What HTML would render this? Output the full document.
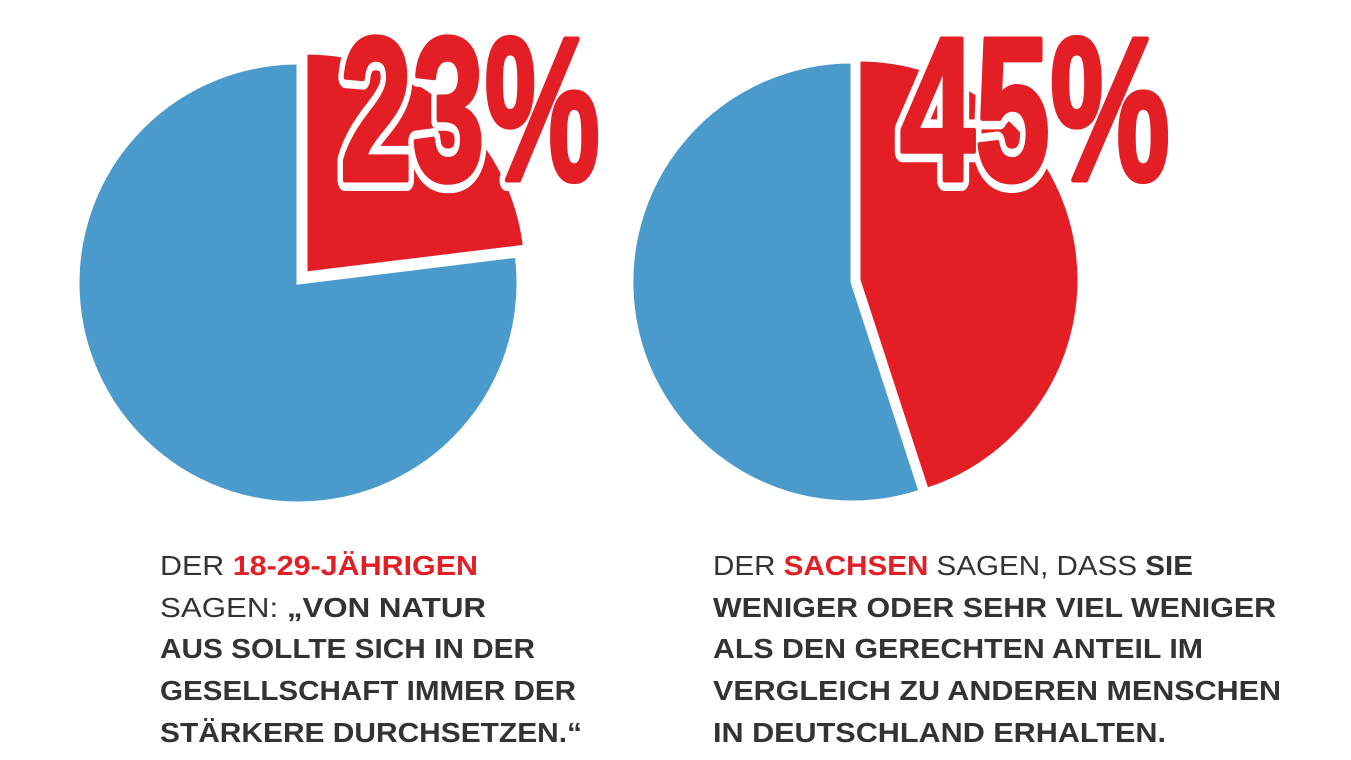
<!DOCTYPE html>
<html><head><meta charset="utf-8"><style>
html,body{margin:0;padding:0;background:#fff;width:1351px;height:760px;overflow:hidden}
svg{display:block}
.t{font-family:"Liberation Sans",sans-serif;font-size:28px;font-weight:bold;fill:#333}
.n{font-weight:normal}
.r{fill:#e31e24}
.bigw{font-family:"Liberation Sans Narrow","Liberation Sans",sans-serif;font-weight:bold;font-size:205px;fill:#fff;stroke:#fff;stroke-width:22px;stroke-linejoin:round}
.big{font-family:"Liberation Sans Narrow","Liberation Sans",sans-serif;font-weight:bold;font-size:205px;fill:#e31e24;stroke:#e31e24;stroke-width:5px;stroke-linejoin:round}
</style></head><body>
<svg width="1351" height="760" viewBox="0 0 1351 760">
<path d="M298,283 L298,63 A220,220 0 1,0 516.4,256.2 Z" fill="#4a9acb" stroke="#fff" stroke-width="3"/>
<path d="M306,273 L306,53 A220,220 0 0,1 524.4,246.2 Z" fill="#e31e24" stroke="#fff" stroke-width="3"/>
<path d="M852,282 L852,62 A220,220 0 1,0 920,491.2 Z" fill="#4a9acb" stroke="#fff" stroke-width="3"/>
<path d="M859,280 L859,60 A220,220 0 0,1 927,489.2 Z" fill="#e31e24" stroke="#fff" stroke-width="3"/>
<text class="bigw" x="340" y="180" textLength="260" lengthAdjust="spacingAndGlyphs">23%</text>
<text class="big" x="340" y="180" textLength="260" lengthAdjust="spacingAndGlyphs">23%</text>
<text class="bigw" x="900" y="180" textLength="270" lengthAdjust="spacingAndGlyphs">45%</text>
<text class="big" x="900" y="180" textLength="270" lengthAdjust="spacingAndGlyphs">45%</text>
<text class="t" x="160" y="575" textLength="318" lengthAdjust="spacingAndGlyphs"><tspan class="n">DER </tspan><tspan class="r">18-29-JÄHRIGEN</tspan></text>
<text class="t" x="160" y="617" textLength="326" lengthAdjust="spacingAndGlyphs"><tspan class="n">SAGEN: </tspan>„VON NATUR</text>
<text class="t" x="160" y="658" textLength="375" lengthAdjust="spacingAndGlyphs">AUS SOLLTE SICH IN DER</text>
<text class="t" x="160" y="700" textLength="416" lengthAdjust="spacingAndGlyphs">GESELLSCHAFT IMMER DER</text>
<text class="t" x="160" y="742" textLength="422" lengthAdjust="spacingAndGlyphs">STÄRKERE DURCHSETZEN.“</text>
<text class="t" x="713" y="575" textLength="480" lengthAdjust="spacingAndGlyphs"><tspan class="n">DER </tspan><tspan class="r">SACHSEN</tspan><tspan class="n"> SAGEN, DASS </tspan>SIE</text>
<text class="t" x="713" y="617" textLength="563" lengthAdjust="spacingAndGlyphs">WENIGER ODER SEHR VIEL WENIGER</text>
<text class="t" x="713" y="658" textLength="490" lengthAdjust="spacingAndGlyphs">ALS DEN GERECHTEN ANTEIL IM</text>
<text class="t" x="713" y="700" textLength="568" lengthAdjust="spacingAndGlyphs">VERGLEICH ZU ANDEREN MENSCHEN</text>
<text class="t" x="713" y="742" textLength="453" lengthAdjust="spacingAndGlyphs">IN DEUTSCHLAND ERHALTEN.</text>
</svg>
</body></html>
